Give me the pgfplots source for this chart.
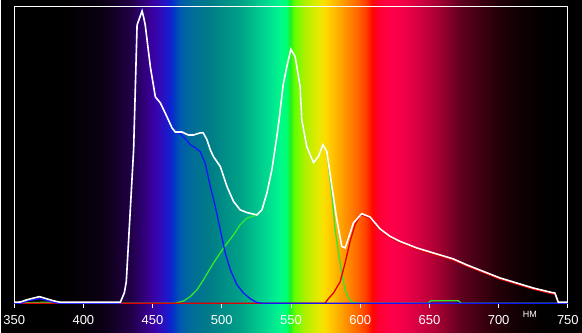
\documentclass[border=0pt]{standalone}
\usepackage{fontspec}
\setmainfont{Liberation Sans}
\usepackage{pgfplots}
\pgfplotsset{compat=1.18}
\definecolor{lblue}{HTML}{1414FF}
\definecolor{lgreen}{HTML}{30E830}
\definecolor{lred}{HTML}{E00000}
\pgfdeclarehorizontalshading{spec}{333pt}{%
rgb(0pt)=(0,0,0);
rgb(60pt)=(0,0,0);
rgb(80pt)=(0.02,0,0.03);
rgb(100pt)=(0.04,0,0.07);
rgb(115pt)=(0.08,0,0.16);
rgb(130pt)=(0.125,0,0.27);
rgb(145pt)=(0.2,0,0.5);
rgb(152pt)=(0.23,0,0.63);
rgb(162pt)=(0.17,0.06,0.75);
rgb(170pt)=(0.06,0.13,0.82);
rgb(175pt)=(0,0.25,0.75);
rgb(180pt)=(0,0.35,0.69);
rgb(190pt)=(0,0.42,0.6);
rgb(210pt)=(0,0.49,0.53);
rgb(240pt)=(0,0.63,0.53);
rgb(260pt)=(0,0.8,0.56);
rgb(272pt)=(0,0.9,0.57);
rgb(281pt)=(0,0.98,0.54);
rgb(287pt)=(0,1,0.44);
rgb(290pt)=(0.12,0.94,0.12);
rgb(294pt)=(0.38,1,0);
rgb(305pt)=(0.69,0.94,0);
rgb(318pt)=(0.9,0.92,0);
rgb(325pt)=(1,0.86,0);
rgb(333pt)=(1,0.75,0);
rgb(345pt)=(1,0.58,0);
rgb(358pt)=(1,0.39,0);
rgb(366pt)=(1,0.24,0);
rgb(372pt)=(1,0.03,0);
rgb(378pt)=(1,0,0.19);
rgb(390pt)=(1,0,0.28);
rgb(405pt)=(0.94,0,0.28);
rgb(420pt)=(0.82,0,0.25);
rgb(440pt)=(0.63,0,0.19);
rgb(460pt)=(0.38,0,0.125);
rgb(480pt)=(0.25,0,0.07);
rgb(500pt)=(0.13,0,0.03);
rgb(520pt)=(0.06,0,0.01);
rgb(540pt)=(0.015,0,0);
rgb(560pt)=(0,0,0);
rgb(582pt)=(0,0,0)}
\begin{document}
\begin{tikzpicture}
\node[inner sep=0pt, outer sep=0pt, anchor=south west] at (0,0) {\pgfuseshading{spec}};
\begin{axis}[
  at={(13.7pt,29.5pt)}, anchor=south west,
  scale only axis, width=554.3pt, height=297.5pt,
  xmin=350, xmax=750, ymin=0, ymax=100,
  axis line style={white, line width=0.8pt},
  xtick={350,400,...,750}, ytick=\empty,
  xtick pos=bottom, tick align=outside, major tick length=5pt,
  tick style={white, line width=0.8pt},
  xticklabel style={white, font=\fontsize{13}{13}\selectfont, yshift=-4pt},
  /pgf/number format/assume math mode=true,
  /pgf/number format/1000 sep={},
]
% green
\addplot[lgreen, line width=1.3pt] coordinates {
(350,0) (372,0.3) (380,0.3) (385,0) (466.4,0) (472.4,0.7) (477.2,2.2) (482.1,4.5) (486.8,7.9)
(494.0,13.5) (501.3,18.6) (508.5,23.0) (513.3,26.4) (518.1,28.6) (525.4,29.7)
(529.0,31.4) (532.6,37.1) (536.2,44.9) (539.8,56.1) (541.4,61.7) (544.3,73.4) (547.0,79.6)
(549.9,85.4) (553.0,83.0) (556.6,72.9) (557.8,61.7) (561.4,52.7) (566.2,47.3) (569.8,49.3)
(573.0,53.3) (575.9,51.0) (579.5,36.5) (581.9,24.7) (584.3,16.9) (586.7,10.2) (589.1,4.5)
(591.5,1.7) (594.1,0.3) (598,0) (649,0) (651,0.8) (671,0.8) (673,0) (750,0)};
% red
\addplot[lred, line width=1.3pt] coordinates {
(350,0) (574.6,0) (577.0,1.5) (580.7,3.4) (585.5,7.2) (589.1,13.5) (592.7,20.8) (596.3,26.4)
(599.9,29.4) (601.1,29.7) (607.1,28.6) (614.3,24.6) (621.5,22.1) (628.7,20.4) (640.8,18.2)
(652.8,16.5) (667.2,14.5) (676.9,12.5) (688.9,10.3) (700.9,8.1) (713.0,6.4) (725.0,4.7)
(738.3,3.2) (740.7,3.0) (743.1,0) (750,0)};
% blue
\addplot[lblue, line width=1.3pt] coordinates {
(350,0) (355,0) (359.6,0.8) (368.3,1.5) (373.3,1.0) (378.4,0.3) (382,0) (426.7,0)
(429.6,3.5) (431.0,7.2) (432.7,21.3) (436.3,51.6) (437.7,75.1) (438.8,93.6) (442.4,98.8)
(443.5,96.3) (444.7,93.6) (448.4,79.5) (452.0,69.4) (455.6,67.4) (460.4,62.7) (464.0,59.0)
(466.4,57.6) (470.1,57.0) (474.3,55.0) (477.2,53.3) (480.8,52.3) (484.4,51.0) (488.0,47.1)
(491.7,39.3) (495.3,32.5) (498.9,24.7) (502.5,16.9) (506.1,11.3) (510.9,6.2) (515.7,3.4)
(520.5,1.5) (524.9,0.3) (529,0) (750,0)};
% white total
\addplot[white, line width=1.6pt] coordinates {
(350,0.3) (354.5,0.4) (359.6,1.2) (368.3,2.2) (373.3,1.5) (378.4,0.8) (383.4,0.3) (426.7,0.3)
(429.6,3.5) (431.0,7.2) (432.7,21.3) (436.3,51.6) (437.7,75.1) (438.8,93.6) (442.4,98.3)
(443.5,96.3) (444.7,93.6) (448.4,79.5) (452.0,69.4) (455.6,67.4) (460.4,62.7) (464.0,59.0)
(466.4,57.6) (471.2,57.6) (475.8,56.6) (479.6,56.6) (484.4,57.3) (486.6,57.3) (489.3,55.0)
(491.7,51.6) (494.0,49.3) (498.9,46.0) (503.7,39.3) (508.5,34.2) (513.3,31.4) (518.1,30.5)
(525.4,29.7) (529.0,31.4) (532.6,37.1) (536.2,44.9) (539.8,56.1) (541.4,61.7) (544.3,73.4)
(547.0,79.6) (549.9,85.4) (553.0,83.0) (556.6,72.9) (557.8,61.7) (561.4,52.7) (566.2,47.3)
(569.8,49.3) (573.0,53.3) (575.9,51.0) (579.5,39.3) (583.1,28.1) (586.7,19.1) (589.1,18.6)
(591.5,21.9) (595.1,27.0) (601.1,30.1) (607.1,29.0) (614.3,25.0) (621.5,22.5) (628.7,20.8)
(640.8,18.6) (652.8,16.9) (667.2,14.9) (676.9,12.9) (688.9,10.7) (700.9,8.5) (713.0,6.8)
(725.0,5.1) (738.3,3.6) (740.7,3.4) (743.1,0.3) (750,0.3)};
\end{axis}
\node[white, font=\fontsize{9}{9}\selectfont, inner sep=0pt] at (530pt,18pt) {НМ};
\end{tikzpicture}
\end{document}
